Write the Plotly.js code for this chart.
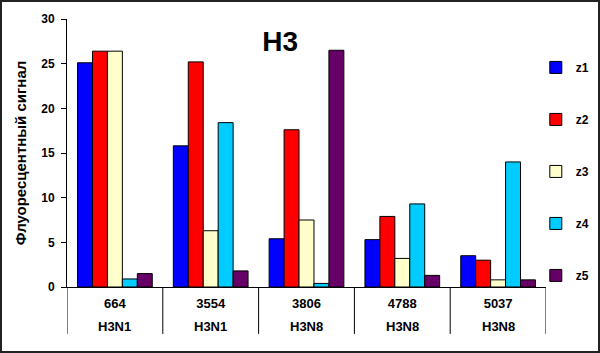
<!DOCTYPE html>
<html>
<head>
<meta charset="utf-8">
<script src="https://cdn.plot.ly/plotly-3.0.1.min.js"></script>
<style>
  html, body { margin: 0; padding: 0; background: #fff; }
  #wrap { position: relative; width: 600px; height: 353px; }
  #chart { position: absolute; left: 0; top: 0; width: 600px; height: 353px; }
  #frame { position: absolute; left: 0; top: 0; width: 600px; height: 353px; box-sizing: border-box; border: 2px solid #222; pointer-events: none; }
</style>
</head>
<body>
<div id="wrap"><div id="chart"></div><div id="frame"></div></div>
<script>
// Data
const categories = ['664', '3554', '3806', '4788', '5037'];
const subtypes = ['H3N1', 'H3N1', 'H3N8', 'H3N8', 'H3N8'];
const seriesNames = ['z1', 'z2', 'z3', 'z4', 'z5'];
const z1 = [25.1, 15.8, 5.4, 5.3, 3.5];
const z2 = [26.4, 25.2, 17.6, 7.9, 3.0];
const z3 = [26.4, 6.3, 7.5, 3.2, 0.8];
const z4 = [0.9, 18.4, 0.4, 9.3, 14.0];
const z5 = [1.5, 1.8, 26.5, 1.3, 0.8];
const seriesValues = [z1, z2, z3, z4, z5];
const colors = ['#0000FF', '#FF0000', '#FFFFCC', '#00CCFF', '#660066'];

const FONT = 'Liberation Sans, Arial, sans-serif';

const traces = seriesNames.map((name, i) => ({
  type: 'bar',
  name: '<b>' + name + '</b>',
  x: categories,
  y: seriesValues[i],
  legendgroup: name,
  marker: { color: colors[i], line: { color: '#000', width: 1 } }
}));

// Category separator lines below the axis (at category boundaries)
const shapes = [];
for (let i = 0; i <= categories.length; i++) {
  shapes.push({
    type: 'line', xref: 'x', yref: 'paper',
    x0: i - 0.5, x1: i - 0.5, y0: 0, y1: -0.175,
    line: { color: '#000', width: 1 }
  });
}

// second row of category labels (subtype), placed by category index
const annotations = subtypes.map((s, i) => ({
  x: i, xref: 'x',
  y: -0.147, yref: 'paper',
  text: '<b>' + s + '</b>', showarrow: false,
  xanchor: 'center', yanchor: 'middle',
  font: { family: FONT, size: 13, color: '#000' }
}));

const layout = {
  width: 600, height: 353,
  margin: { l: 66.5, r: 54, t: 19, b: 66, pad: 0, autoexpand: false },
  paper_bgcolor: '#fff', plot_bgcolor: '#fff',
  barmode: 'group', bargap: 0.22, bargroupgap: 0,
  title: {
    text: '<b>H3</b>',
    font: { family: FONT, size: 28, color: '#000' },
    xref: 'paper', x: 0.445, xanchor: 'center',
    yref: 'container', y: 0.882, yanchor: 'middle'
  },
  xaxis: {
    type: 'category',
    categoryorder: 'array', categoryarray: categories,
    range: [-0.5, categories.length - 0.5], autorange: false,
    showline: true, linecolor: '#000', linewidth: 1,
    ticks: '', showgrid: false, zeroline: false,
    tickfont: { family: FONT, size: 13, color: '#000' },
    tickprefix: '<b>', ticksuffix: '</b>',
    ticklabelstandoff: 4,
    automargin: false
  },
  yaxis: {
    range: [0, 30], autorange: false, dtick: 5,
    showline: true, linecolor: '#000', linewidth: 1,
    ticks: 'outside', ticklen: 5, tickcolor: '#000',
    showgrid: false, zeroline: false,
    tickfont: { family: FONT, size: 12, color: '#000' },
    tickprefix: '<b>', ticksuffix: '</b>',
    ticklabelstandoff: 4,
    title: { text: '<b>Флуоресцентный сигнал</b>', font: { family: FONT, size: 15, color: '#000' }, standoff: 10 },
    automargin: false
  },
  legend: {
    xref: 'container', x: 0.893, xanchor: 'left',
    yref: 'container', y: 0.85, yanchor: 'top',
    font: { family: FONT, size: 12, color: '#000' },
    tracegroupgap: 33, itemwidth: 30, maxheight: 340,
    bgcolor: 'rgba(0,0,0,0)'
  },
  shapes: shapes,
  annotations: annotations,
  showlegend: true
};

Plotly.newPlot('chart', traces, layout, { displayModeBar: false, staticPlot: true });
</script>
</body>
</html>
